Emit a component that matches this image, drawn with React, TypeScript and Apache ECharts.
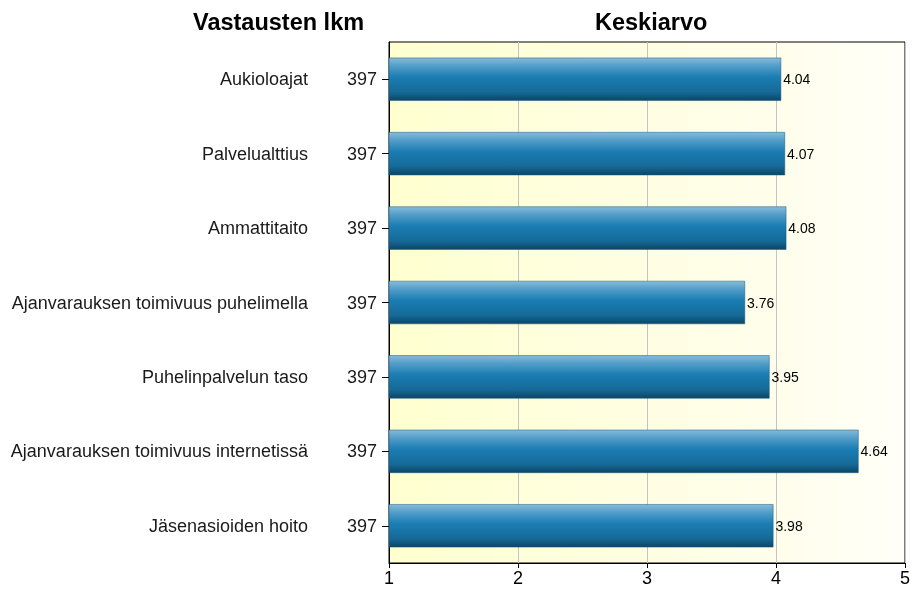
import React, { useEffect, useRef } from "react";
import * as echarts from "echarts";

const categories = [
  "Aukioloajat",
  "Palvelualttius",
  "Ammattitaito",
  "Ajanvarauksen toimivuus puhelimella",
  "Puhelinpalvelun taso",
  "Ajanvarauksen toimivuus internetissä",
  "Jäsenasioiden hoito",
];
const counts = [397, 397, 397, 397, 397, 397, 397];
const means = [4.04, 4.07, 4.08, 3.76, 3.95, 4.64, 3.98];
const headers = ["Vastausten lkm", "Keskiarvo"];

const FONT = "'Liberation Sans', Arial, sans-serif";

export default function App() {
  const ref = useRef<HTMLDivElement>(null);
  useEffect(() => {
    if (!ref.current) return;
    const chart = echarts.init(ref.current, null, { renderer: "svg" });
    chart.setOption({
      animation: false,
      textStyle: { fontFamily: FONT },
      graphic: [
        {
          type: "text",
          left: 193,
          top: 10,
          style: { text: headers[0], font: `bold 23.5px ${FONT}`, fill: "#000" },
        },
        {
          type: "text",
          left: 595,
          top: 10,
          style: { text: headers[1], font: `bold 23.5px ${FONT}`, fill: "#000" },
        },
      ],
      grid: {
        left: 389,
        right: 4,
        top: 42,
        bottom: 26,
        show: true,
        borderColor: "#000",
        borderWidth: 1,
        backgroundColor: new echarts.graphic.LinearGradient(0, 0, 1, 0, [
          { offset: 0, color: "#FFFFD0" },
          { offset: 0.75, color: "#FFFEEC" },
          { offset: 1, color: "#FFFFF8" },
        ]),
      },
      xAxis: {
        type: "value",
        min: 1,
        max: 5,
        interval: 1,
        axisLine: { show: true, lineStyle: { color: "#000" } },
        axisTick: { show: true, length: 5, lineStyle: { color: "#000" } },
        axisLabel: { color: "#000", fontSize: 18, margin: 6, fontFamily: FONT },
        splitLine: { show: true, lineStyle: { color: "#C4C4C4", width: 1 } },
      },
      yAxis: [
        {
          type: "category",
          data: categories,
          inverse: true,
          axisLine: { show: true, lineStyle: { color: "#000" } },
          axisTick: { show: true, length: 7, alignWithLabel: true, lineStyle: { color: "#000" } },
          axisLabel: {
            color: "#1a1a1a",
            fontSize: 18,
            margin: 12,
            fontFamily: FONT,
            formatter: (_v: string, i: number) => String(counts[i]),
          },
          splitLine: { show: false },
        },
        {
          type: "category",
          data: categories,
          inverse: true,
          position: "left",
          offset: 73,
          axisLine: { show: false },
          axisTick: { show: false },
          axisLabel: { color: "#1a1a1a", fontSize: 18, margin: 8, fontFamily: FONT },
          splitLine: { show: false },
        },
      ],
      series: [
        {
          type: "bar",
          yAxisIndex: 0,
          data: means,
          barCategoryGap: "42%",
          itemStyle: {
            color: new echarts.graphic.LinearGradient(0, 0, 0, 1, [
              { offset: 0, color: "#86BBDA" },
              { offset: 0.2, color: "#4F9CC8" },
              { offset: 0.45, color: "#1B7DB3" },
              { offset: 0.8, color: "#156A98" },
              { offset: 1, color: "#0C4566" },
            ]),
            borderColor: "#16587E",
            borderWidth: 0.5,
          },
          label: {
            show: true,
            position: "right",
            distance: 2,
            color: "#000",
            fontSize: 14,
            fontFamily: FONT,
            formatter: (p: any) => p.value.toFixed(2),
          },
        },
      ],
    });
    return () => chart.dispose();
  }, []);
  return (
    <div
      ref={ref}
      style={{ width: 913, height: 589, position: "fixed", left: 0, top: 0 }}
    />
  );
}
